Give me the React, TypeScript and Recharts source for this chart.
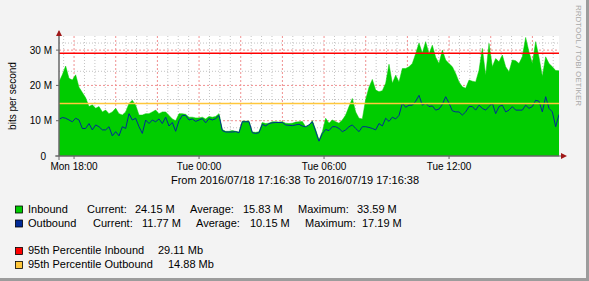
import {
  ComposedChart,
  Area,
  Line,
  XAxis,
  YAxis,
  CartesianGrid,
  ReferenceLine,
} from "recharts";

// 5 min samples thinned out, Mon 17:16:38 -> Tue 17:16:38 (values in Mbit/s)
const inbound = [
  21, 23, 25.5, 22, 21.5, 23, 19.5, 18, 16.5, 14, 14.5, 13.5, 14, 12.5, 13,
  12, 12.5, 13.5, 12, 11.6, 12.5, 14.9, 15.8, 14.4, 11.6, 11.6, 12, 12, 12.5, 13,
  12, 12.5, 12.5, 11.5, 10.5, 10, 12, 12, 11.8, 11, 11, 10.8, 10.8, 11, 10.5,
  11.2, 11, 11.2, 12, 7.5, 7, 7, 7.2, 7, 6.8, 9.9, 9.9, 9.9, 6.8, 6.7,
  6.9, 9.5, 9.2, 9.3, 9.7, 9.7, 9.6, 9.7, 9.3, 9.2, 9.3, 9.6, 9.7, 9.8, 8.3,
  8.8, 10, 7.5, 4.6, 6.9, 10.7, 9.3, 10.2, 9.7, 9.3, 10.2, 11.6, 14, 16.3, 12.5,
  10.7, 10.5, 16, 19.5, 21.7, 18.7, 18.2, 18.5, 20.6, 26, 20.6, 22.9, 21, 24.8, 24.8,
  25.3, 26.2, 29, 32, 29.2, 32.4, 29, 31.4, 28, 26.2, 30, 27.2, 26.2, 25.3, 23.4,
  21, 19.6, 19.2, 21.5, 21.2, 21, 24.3, 30.5, 22.9, 31.9, 25.3, 27.6, 26.7, 28.6, 25.3,
  23.9, 27.2, 27, 26.2, 28.1, 33.59, 29.5, 26.2, 32.4, 28, 22.5, 28.1, 26.2, 25.3, 24.2,
  24.15,
];

const outbound = [
  10.4, 10.9, 10.7, 10.2, 9.7, 10.7, 10.2, 7.8, 7.8, 9.2, 7.4, 8.8, 8.3, 7.4, 7.4,
  8.3, 5.7, 6.9, 5.7, 8.3, 7.8, 12, 10.2, 10.7, 8.3, 6.4, 10.2, 9.2, 10.2, 9.7,
  10.5, 9.2, 11, 8.5, 9.5, 7, 10, 11.5, 11.5, 10.2, 10.5, 9.8, 10.2, 10.6, 9.4,
  10.6, 10.2, 10.6, 11.5, 7.2, 6.8, 6.8, 6.8, 6.9, 6.6, 9.7, 9.7, 9.7, 6.6, 6.4,
  6.6, 9, 8.5, 9.2, 9.4, 9.5, 9.5, 9.5, 8.8, 8.7, 8.6, 8.8, 9, 8.5, 8.3,
  8.8, 9.7, 7, 4.2, 6.4, 7.5, 7.2, 8.3, 8.3, 7.8, 6.9, 7.4, 8.3, 8.8, 7.8,
  6.9, 8.3, 8.3, 8.1, 7.8, 7.4, 9.2, 8.5, 10.7, 9.8, 11, 10.5, 11.5, 15, 13.8,
  14.4, 14.4, 15.5, 17.19, 14.4, 15, 14, 14.2, 13, 13.3, 14.6, 16.8, 15, 12.8, 12.5,
  12.5, 11.6, 12.5, 14, 14, 13, 14.4, 13.5, 13, 14, 15, 12, 14, 14.4, 12.5,
  13, 14, 13, 13, 13, 14.4, 13.5, 14, 15.8, 15.5, 12.5, 16.8, 13.5, 12.5, 8.3,
  11.77,
];

const pct95In = 29.11;
const pct95Out = 14.88;

const xTickHours = [18, 24, 30, 36];
const xTickLabels = ["Mon 18:00", "Tue 00:00", "Tue 06:00", "Tue 12:00"];
const yTicks = [0, 10, 20, 30];

const inStats = ["24.15 M", "15.83 M", "33.59 M"];
const outStats = ["11.77 M", "10.15 M", "17.19 M"];

const START = 17 + 16 / 60 + 38 / 3600;
const SPAN = 24;

const rows = inbound.map((v, i) => ({
  t: START + (i * SPAN) / (inbound.length - 1),
  inbound: v,
  outbound: outbound[i],
}));

const minorX = Array.from({ length: 48 }, (_, i) => 17.5 + i * 0.5).filter(
  (h) => h % 2 !== 0
);
const majorX = Array.from({ length: 12 }, (_, i) => 18 + i * 2);
const minorY = [2, 4, 6, 8, 12, 14, 16, 18, 22, 24, 26, 28, 32];
const majorY = [10, 20, 30];

const FONT = "'Liberation Sans', Arial, sans-serif";

function Swatch({ y, color }: { y: number; color: string }) {
  return (
    <rect x={15.5} y={y} width={7} height={7} fill={color} stroke="#000" strokeWidth={0.8} />
  );
}

// rrdtool pads the zero label, so it sits a bit further left
function YTick(props: any) {
  const { x, y, payload } = props;
  const v = payload.value;
  return (
    <text
      x={v === 0 ? x - 6 : x}
      y={y}
      dy={3.5}
      textAnchor="end"
      fontSize={10}
      fill="#000"
      fontFamily={FONT}
    >
      {v === 0 ? "0" : `${v} M`}
    </text>
  );
}

export default function App() {
  return (
    <div
      style={{
        position: "absolute",
        left: 0,
        top: 0,
        width: 589,
        height: 281,
        boxSizing: "border-box",
        background: "#f3f3f3",
        borderRight: "3px solid #9c9c9c",
        borderBottom: "3px solid #9c9c9c",
        fontFamily: FONT,
      }}
    >
      <div style={{ position: "absolute", left: 0, top: 0 }}>
        <ComposedChart
          width={589}
          height={281}
          data={rows}
          margin={{ top: 36, right: 30, bottom: 105, left: 0 }}
        >
          <CartesianGrid
            horizontalValues={minorY}
            verticalValues={minorX}
            stroke="#c4c4c4"
            strokeDasharray="1 2"
            fill="#ffffff"
          />
          <CartesianGrid
            horizontalValues={majorY}
            verticalValues={majorX}
            stroke="#f09090"
            strokeDasharray="2 2"
          />
          <XAxis
            dataKey="t"
            type="number"
            domain={[START, START + SPAN]}
            allowDataOverflow
            ticks={xTickHours}
            tickFormatter={(h) => xTickLabels[xTickHours.indexOf(h)] ?? ""}
            height={20}
            tickSize={3}
            tickMargin={4}
            axisLine={{ stroke: "#666" }}
            tickLine={{ stroke: "#666" }}
            tick={{ fontSize: 10, fill: "#000", fontFamily: FONT }}
          />
          <YAxis
            type="number"
            domain={[0, 34]}
            allowDataOverflow
            ticks={yTicks}
            width={59}
            tickSize={3}
            tickMargin={4}
            axisLine={{ stroke: "#666" }}
            tickLine={{ stroke: "#666" }}
            tick={<YTick />}
          />
          <Area
            dataKey="inbound"
            type="linear"
            fill="#00cc00"
            fillOpacity={1}
            stroke="#00cc00"
            strokeWidth={0.5}
            isAnimationActive={false}
          />
          <Line
            dataKey="outbound"
            type="linear"
            stroke="#002a97"
            strokeWidth={1}
            dot={false}
            isAnimationActive={false}
          />
          <ReferenceLine y={pct95In} stroke="#ff0000" strokeWidth={1.5} />
          <ReferenceLine y={pct95Out} stroke="#ffc73b" strokeWidth={1.5} />
        </ComposedChart>
      </div>
      <svg
        width={589}
        height={281}
        style={{ position: "absolute", left: 0, top: 0, pointerEvents: "none" }}
        fontFamily={FONT}
      >
        <line x1={59} y1={31} x2={59} y2={160} stroke="#666" strokeWidth={1} />
        <line x1={55} y1={156} x2={562} y2={156} stroke="#666" strokeWidth={1} />
        <polygon points="56,36 62,36 59,30" fill="#a01818" />
        <polygon points="561,153 561,159 567,156" fill="#a01818" />
        <text
          transform="translate(16,96) rotate(-90)"
          textAnchor="middle"
          fontSize={10}
          fill="#000"
        >
          bits per second
        </text>
        <text transform="translate(576,5) rotate(90)" fontSize={8} fill="#a8a8a8">
          RRDTOOL / TOBI OETIKER
        </text>
        <text x={295} y={184} textAnchor="middle" fontSize={11} fill="#000">
          From 2016/07/18 17:16:38 To 2016/07/19 17:16:38
        </text>

        <Swatch y={206} color="#00cc00" />
        <text y={212.5} fontSize={11} fill="#000">
          <tspan x={28}>Inbound</tspan>
          <tspan x={87}>Current:</tspan>
          <tspan x={135}>{inStats[0]}</tspan>
          <tspan x={190}>Average:</tspan>
          <tspan x={243}>{inStats[1]}</tspan>
          <tspan x={298}>Maximum:</tspan>
          <tspan x={357}>{inStats[2]}</tspan>
        </text>
        <Swatch y={220} color="#002a97" />
        <text y={226.5} fontSize={11} fill="#000">
          <tspan x={28}>Outbound</tspan>
          <tspan x={93}>Current:</tspan>
          <tspan x={142}>{outStats[0]}</tspan>
          <tspan x={196}>Average:</tspan>
          <tspan x={250}>{outStats[1]}</tspan>
          <tspan x={305}>Maximum:</tspan>
          <tspan x={362}>{outStats[2]}</tspan>
        </text>

        <Swatch y={247.5} color="#ff0000" />
        <text y={254} fontSize={11} fill="#000">
          <tspan x={28}>95th Percentile Inbound</tspan>
          <tspan x={158}>{`${pct95In.toFixed(2)} Mb`}</tspan>
        </text>
        <Swatch y={261.5} color="#ffc73b" />
        <text y={268} fontSize={11} fill="#000">
          <tspan x={28}>95th Percentile Outbound</tspan>
          <tspan x={168}>{`${pct95Out.toFixed(2)} Mb`}</tspan>
        </text>
      </svg>
    </div>
  );
}
